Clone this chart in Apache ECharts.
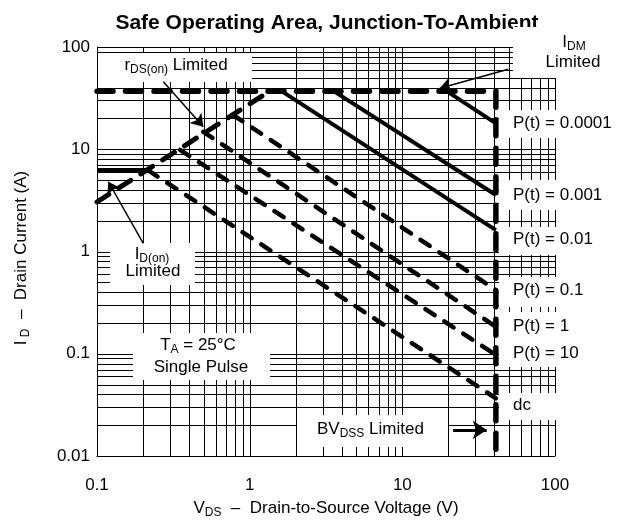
<!DOCTYPE html>
<html><head><meta charset="utf-8">
<script src="https://cdn.jsdelivr.net/npm/echarts@6/dist/echarts.min.js"></script>
<style>html,body{margin:0;padding:0;background:#fff}#c{width:618px;height:527px}</style>
</head><body><div id="c"></div>
<script>
// ---- axis ticks / grid values ----
const xTickLabels = ['0.1', '1', '10', '100'];
const yTickLabels = ['0.01', '0.1', '1', '10', '100'];
const xGridValues = [0.1,0.2,0.3,0.4,0.5,0.6,0.7,0.8,0.9,1,2,3,4,5,6,7,8,9,10,20,30,40,50,60,70,80,90,100];
const yGridValues = [0.01,0.02,0.03,0.04,0.05,0.06,0.07,0.08,0.09,0.1,0.2,0.3,0.4,0.5,0.6,0.7,0.8,0.9,1,2,3,4,5,6,7,8,9,10,20,30,40,50,60,70,80,90,100];

// ---- limit curves (VDS [V], ID [A]) ----
const idmBvdssLimit = [[0.1, 37], [41, 37], [41, 0.01]];
const idOnLimit = [[0.1, 6.2], [0.217, 6.2]];
const rdsOnLimit = [[0.1, 3.05], [1.35, 37]];
const pt0001 = [[19.5, 37], [41, 17.9]];
const pt001 = [[3.55, 37], [41, 3.57]];
const pt01 = [[1.62, 37], [41, 1.62]];
const pt_1 = [[0.781, 21.6], [41, 0.42]];
const pt1 = [[0.497, 14.8], [41, 0.184]];
const pt10 = [[0.35, 9.84], [41, 0.0973]];
const ptDc = [[0.217, 6.2], [41, 0.0367]];

// ---- annotation arrows ----
const rdsArrow = [[0.272, 45.8], [0.497, 16.6]];
const idOnArrow = [[0.201, 1.2], [0.1186, 4.81]];
const idmArrow = [[49.4, 60.5], [17.6, 39.5]];
const bvdssArrow = [[21.5, 0.018], [35.7, 0.018]];

const X_MIN = 0.1, X_MAX = 100, Y_MIN = 0.01, Y_MAX = 100;
const FONT = '"Liberation Sans", Arial, Helvetica, sans-serif';
const chart = echarts.init(document.getElementById('c'), null, {renderer: 'canvas'});

function fmt(labels) {
  return v => labels.find(t => Math.abs(Math.log10(+t) - Math.log10(v)) < 1e-6) || '';
}

function gridSeries(values, vertical) {
  return {
    type: 'custom', z: 1, silent: true, animation: false,
    data: values.map(v => vertical ? [v, 1] : [1, v]),
    renderItem: function (params, api) {
      if (vertical) {
        const v = api.value(0);
        const a = api.coord([v, Y_MIN]), b = api.coord([v, Y_MAX]);
        const x = Math.round(a[0]) + 0.5;
        return {type: 'line', shape: {x1: x, y1: b[1], x2: x, y2: a[1]}, style: {stroke: '#000', lineWidth: 1}};
      } else {
        const v = api.value(1);
        const a = api.coord([X_MIN, v]), b = api.coord([X_MAX, v]);
        const y = Math.round(a[1]) + 0.5;
        return {type: 'line', shape: {x1: a[0], y1: y, x2: b[0], y2: y}, style: {stroke: '#000', lineWidth: 1}};
      }
    }
  };
}

function curve(data, width, dash) {
  return {
    type: 'line', data: data, symbol: 'none', z: 3, silent: true, animation: false,
    lineStyle: {color: '#000', width: width, type: dash || 'solid', cap: dash ? 'round' : 'butt'}
  };
}

const rich = {
  n: {fontSize: 17, fontFamily: FONT, fill: '#000'},
  s: {fontSize: 12, fontFamily: FONT, fill: '#000', padding: [10, 0, 0, 0]}
};
function txt(x, y, text, align, extra) {
  return Object.assign({
    type: 'text', x: x, y: y, z: 4, silent: true,
    style: {text: text, rich: rich, align: align || 'center', verticalAlign: 'middle', font: '17px ' + FONT, fill: '#000'}
  }, extra || {});
}
function box(x, y, w, h) {
  return {type: 'rect', z: 2, silent: true, shape: {x: x, y: y, width: w, height: h}, style: {fill: '#fff'}};
}

const option = {
  backgroundColor: '#fff',
  animation: false,
  grid: {left: 97, right: 63, top: 47, bottom: 71, containLabel: false},
  xAxis: {
    type: 'log', logBase: 10, min: X_MIN, max: X_MAX,
    axisLine: {show: true, onZero: false, lineStyle: {color: '#000', width: 1}},
    axisTick: {show: false}, splitLine: {show: false},
    axisLabel: {color: '#000', fontSize: 17, fontFamily: FONT, margin: 21, formatter: fmt(xTickLabels)}
  },
  yAxis: {
    type: 'log', logBase: 10, min: Y_MIN, max: Y_MAX,
    axisLine: {show: true, onZero: false, lineStyle: {color: '#000', width: 1}},
    axisTick: {show: false}, splitLine: {show: false},
    axisLabel: {color: '#000', fontSize: 17, fontFamily: FONT, margin: 7, formatter: fmt(yTickLabels)}
  },
  series: [
    gridSeries(xGridValues, true),
    gridSeries(yGridValues, false),
    curve(idmBvdssLimit, 5.5, [16, 12.5]),
    curve(idOnLimit, 5),
    curve(rdsOnLimit, 5, [14, 12]),
    curve(pt0001, 4),
    curve(pt001, 4),
    curve(pt01, 4),
    curve(pt_1, 4.5, [11, 11.5]),
    curve(pt1, 4.5, [11, 11.5]),
    curve(pt10, 4.5, [11, 11.5]),
    curve(ptDc, 4.5, [11, 11.5]),
    {type: 'lines', coordinateSystem: 'cartesian2d', z: 5, silent: true, polyline: false,
     symbol: ['none', 'arrow'], symbolSize: [7, 12],
     lineStyle: {color: '#000', width: 1.5, opacity: 1},
     data: [{coords: rdsArrow}, {coords: idOnArrow}, {coords: idmArrow}]},
    {type: 'lines', coordinateSystem: 'cartesian2d', z: 5, silent: true, polyline: false,
     symbol: ['none', 'arrow'], symbolSize: [9, 14],
     lineStyle: {color: '#000', width: 3, opacity: 1},
     data: [{coords: bvdssArrow}]}
  ],
  graphic: {elements: [
    // title
    {type: 'text', x: 327, y: 23, z: 1.8, silent: true,
     style: {text: 'Safe Operating Area, Junction-To-Ambient', font: 'bold 21px ' + FONT, fill: '#000', align: 'center', verticalAlign: 'middle'}},
    // white label boxes
    box(98, 53, 154, 29),
    box(513, 27, 105, 51),
    box(110, 243, 85, 42),
    box(133, 333, 137, 47),
    box(297, 415, 151, 32),
    box(499, 110, 119, 28),
    box(499, 180, 119, 30),
    box(499, 227, 119, 28),
    box(499, 277, 119, 30),
    box(499, 312, 119, 55),
    box(499, 393, 119, 27),
    // labels
    txt(176, 65, '{n|r}{s|DS(on)}{n| Limited}'),
    txt(574, 42, '{n|I}{s|DM}'),
    txt(573, 62, '{n|Limited}'),
    txt(152, 254, '{n|I}{s|D(on)}'),
    txt(153, 271, '{n|Limited}'),
    txt(198, 345, '{n|T}{s|A}{n| = 25°C}'),
    txt(201, 367, '{n|Single Pulse}'),
    txt(317, 429, '{n|BV}{s|DSS}{n| Limited}', 'left'),
    txt(513, 123, '{n|P(t) = 0.0001}', 'left'),
    txt(513, 195, '{n|P(t) = 0.001}', 'left'),
    txt(513, 239, '{n|P(t) = 0.01}', 'left'),
    txt(513, 290, '{n|P(t) = 0.1}', 'left'),
    txt(513, 326, '{n|P(t) = 1}', 'left'),
    txt(513, 353, '{n|P(t) = 10}', 'left'),
    txt(513, 405, '{n|dc}', 'left'),
    // axis titles
    txt(326, 508, '{n|V}{s|DS}{n|  –  Drain-to-Source Voltage (V)}'),
    txt(21, 258, '{n|I}{s| D}{n|  –  Drain Current (A)}', 'center', {rotation: Math.PI / 2})
  ]}
};
chart.setOption(option);
</script>
</body></html>
